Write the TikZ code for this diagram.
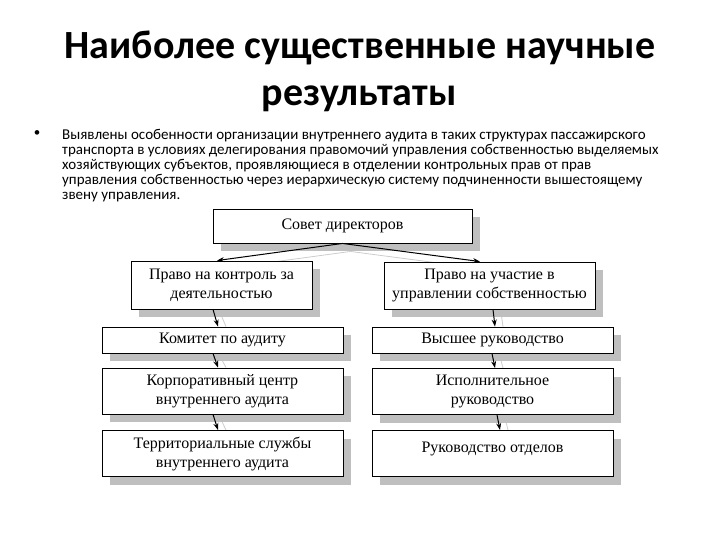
\documentclass[tikz,border=0pt]{standalone}
\usepackage{fontspec}
\setmainfont{Liberation Serif}
\newfontfamily\slidefont{Carlito}
\usetikzlibrary{calc,shadows,backgrounds,arrows.meta}

\begin{document}
\begin{tikzpicture}[x=1pt, y=-1pt, >={Stealth[length=7pt,width=5pt]},
    box/.style={draw, line width=0.9pt, fill=white, inner sep=2pt, align=center,
        font=\fontsize{16}{19}\selectfont,
        drop shadow={shadow xshift=8pt, shadow yshift=-8pt, fill=black!25, opacity=1}},
    link/.style={->, line width=1pt},
    linkshade/.style={black!20, line width=0.8pt}]
    \useasboundingbox (0,0) rectangle (720,540);
    % --- 1. Parameters ---
    \def\colW{241}
    \def\rowH{26}
    \def\twoH{46}
    % --- 2. Heading and text ---
    \node[font=\slidefont\bfseries\fontsize{40}{40}\selectfont, anchor=base] (title1) at (360,59) {Наиболее существенные научные};
    \node[font=\slidefont\bfseries\fontsize{40}{40}\selectfont, anchor=base] (title2) at (359,106) {результаты};
    \node[font=\slidefont\fontsize{13}{13}\selectfont] (dot) at (37,134) {•};
    \node[font=\slidefont\fontsize{15}{15}\selectfont, anchor=north west, align=left, inner sep=0pt] (text) at (62,129)
        {Выявлены особенности организации внутреннего аудита в таких структурах пассажирского\\
         транспорта в условиях делегирования правомочий управления собственностью выделяемых\\
         хозяйствующих субъектов, проявляющиеся в отделении контрольных прав от прав\\
         управления собственностью через иерархическую систему подчиненности вышестоящему\\
         звену управления.};
    % --- 3. Boxes ---
    \node[box, minimum width=259pt, minimum height=34pt] (sovet) at (342.5,226) {Совет директоров};
    \node[box, minimum width=181pt, minimum height=48pt] (kontrol) at (221.5,285) {Право на контроль за\\деятельностью};
    \node[box, minimum width=211pt, minimum height=47pt] (uchast) at (489.5,285.5) {Право на участие в\\управлении собственностью};
    % left column
    \node[box, minimum width=\colW pt, minimum height=\rowH pt] (komitet) at (222.5,340) {Комитет по аудиту};
    \node[box, minimum width=\colW pt, minimum height=\twoH pt] (korp) at (222.5,391) {Корпоративный центр\\внутреннего аудита};
    \node[box, minimum width=\colW pt, minimum height=\twoH pt] (terr) at (222.5,453.5) {Территориальные службы\\внутреннего аудита};
    % right column
    \node[box, minimum width=\colW pt, minimum height=\rowH pt] (vysh) at (492.5,340) {Высшее руководство};
    \node[box, minimum width=\colW pt, minimum height=\twoH pt] (ispol) at (492.5,391.5) {Исполнительное\\руководство};
    \node[box, minimum width=\colW pt, minimum height=\twoH pt, text depth=12pt] (ruk) at (492.5,453.5) {Руководство отделов};
    % --- 4. Connectors ---
    \begin{scope}[on background layer]
        \draw[linkshade] ($(sovet.south)+(8,8)$) -- ($(kontrol.north)+(3.5,8)$);
        \draw[linkshade] ($(sovet.south)+(8,8)$) -- ($(uchast.north)+(-1.5,8)$);
        \draw[linkshade] ($(kontrol.south)+(-1.5,3)$) -- ($(komitet.north)+(3.5,0)$);
        \draw[linkshade] ($(komitet.south)+(-2.5,3)$) -- ($(korp.north)+(3.5,0)$);
        \draw[linkshade] ($(korp.south)+(-2.5,3)$) -- ($(terr.north)+(3.5,0)$);
        \draw[linkshade] ($(uchast.south)+(11.5,3)$) -- ($(vysh.north)+(10.5,0)$);
        \draw[linkshade] ($(vysh.south)+(7.5,3)$) -- ($(ispol.north)+(10.5,0)$);
        \draw[linkshade] ($(ispol.south)+(12.5,3)$) -- ($(ruk.north)+(15.5,0)$);
    \end{scope}
    \draw[link] (sovet.south) -- ($(kontrol.north)+(-4.5,0)$);
    \draw[link] (sovet.south) -- ($(uchast.north)+(-9.5,0)$);
    \draw[link] ($(kontrol.south)+(-8.5,0)$) -- ($(komitet.north)+(-4.5,0)$);
    \draw[link] ($(komitet.south)+(-9.5,0)$) -- ($(korp.north)+(-4.5,0)$);
    \draw[link] ($(korp.south)+(-9.5,0)$) -- ($(terr.north)+(-4.5,0)$);
    \draw[link] ($(uchast.south)+(3.5,0)$) -- ($(vysh.north)+(2.5,0)$);
    \draw[link] ($(vysh.south)+(-0.5,0)$) -- ($(ispol.north)+(2.5,0)$);
    \draw[link] ($(ispol.south)+(4.5,0)$) -- ($(ruk.north)+(7.5,0)$);
\end{tikzpicture}
\end{document}
